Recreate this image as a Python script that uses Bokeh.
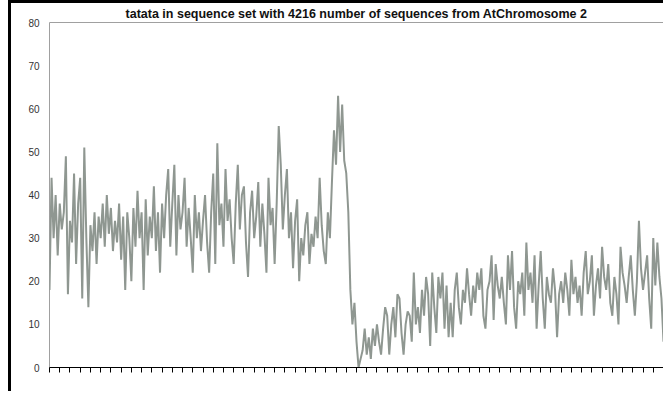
from bokeh.plotting import figure
from bokeh.models import FixedTicker, Range1d
from bokeh.embed import file_html
from bokeh.resources import INLINE

title_text = "tatata in sequence set with 4216 number of sequences from AtChromosome 2"

counts = [
    18, 44, 30, 40, 26, 38, 32, 36, 49, 17, 34, 29, 45, 24, 38, 44, 16, 51, 30, 14,
    33, 27, 36, 24, 35, 30, 38, 28, 40, 31, 37, 27, 34, 29, 38, 25, 35, 18, 36, 30,
    20, 37, 28, 41, 30, 36, 18, 39, 26, 35,
    30, 42, 27, 36, 22, 38, 30, 40, 46, 28, 38, 47, 26, 40, 32, 36, 44, 28, 37, 30,
    22, 40, 30, 36, 27, 34, 40, 29, 22, 36, 45, 24, 52, 33, 38, 28, 46, 34, 39, 30,
    24, 38, 47, 32, 40, 42, 29, 21, 36, 41,
    30, 35, 43, 28, 38, 31, 22, 44, 33, 37, 24, 38, 56, 47, 32, 40, 46, 30, 36, 23,
    34, 39, 20, 30, 26, 33, 36, 24, 31, 28, 35, 30, 44, 33, 27, 24, 36, 30, 43, 55,
    47, 63, 50, 61, 48, 45, 36, 18, 10, 15,
    6, 0, 2, 4, 9, 3, 7, 2, 9, 5, 10, 6, 3, 9, 14, 12, 3, 10, 14, 7,
    17, 16, 8, 3, 10, 13, 12, 6, 22, 10, 14, 8, 18, 12, 21, 17, 5, 22, 14, 8,
    21, 16, 22, 9, 19, 7, 15, 7, 18, 22,
    14, 10, 18, 15, 23, 17, 12, 19, 15, 22, 18, 23, 12, 9, 18, 20, 26, 11, 24, 19,
    16, 21, 15, 10, 26, 18, 27, 14, 9, 20, 17, 22, 12, 29, 18, 22, 15, 26, 9, 19,
    27, 16, 9, 21, 17, 15, 23, 18, 7, 17,
    20, 15, 22, 18, 12, 25, 17, 21, 15, 19, 12, 22, 27, 17, 20, 26, 12, 19, 23, 16,
    28, 21, 18, 24, 15, 12, 21, 17, 10, 28, 22, 19, 15, 21, 26, 18, 12, 20, 34, 23,
    18, 22, 26, 16, 9, 30, 19, 29, 21, 16, 6,
]
positions = list(range(len(counts)))
y_ticks = [0, 10, 20, 30, 40, 50, 60, 70, 80]
x_tick_step = 5
x_ticks = list(range(0, len(counts), x_tick_step))

W, H = 655, 391
BL, BR, BT, BB = 38, 3, 19, 27
p = figure(width=W, height=H, output_backend="svg", toolbar_location=None,
           x_range=Range1d(0, len(counts) - 1), y_range=Range1d(0, 80),
           min_border_left=BL, min_border_right=BR, min_border_top=BT, min_border_bottom=BB,
           title=title_text,
           styles={"margin-left": "8px", "border-left": "3px solid black",
                   "border-top": "3px solid black"})
p.title.align = "center"
p.title.text_font = "Liberation Sans"
p.title.text_font_style = "bold"
p.title.text_font_size = "12.5px"
p.title.text_color = "#111111"
p.title.standoff = 3
p.title.offset = 0

p.background_fill_color = "white"
p.border_fill_color = "white"
p.outline_line_color = "#a0a0a0"
p.outline_line_width = 1
p.xgrid.visible = False
p.ygrid.visible = False

p.line(positions, counts, line_color="#8f9791", line_width=2)

p.xaxis.ticker = FixedTicker(ticks=x_ticks)
p.xaxis.major_label_overrides = {t: "" for t in x_ticks}
p.xaxis.major_tick_out = 5
p.xaxis.major_tick_in = 0
p.xaxis.minor_tick_out = 0
p.xaxis.minor_tick_in = 0
p.xaxis.axis_line_color = "black"
p.xaxis.major_tick_line_color = "black"

p.yaxis.ticker = FixedTicker(ticks=y_ticks)
p.yaxis.axis_line_color = None
p.yaxis.major_tick_out = 0
p.yaxis.major_tick_in = 0
p.yaxis.minor_tick_out = 0
p.yaxis.minor_tick_in = 0
p.yaxis.major_label_standoff = 10
p.yaxis.major_label_text_font = "Liberation Sans"
p.yaxis.major_label_text_font_size = "10px"
p.yaxis.major_label_text_color = "#333333"

open("out.html", "w").write(file_html(p, INLINE))
